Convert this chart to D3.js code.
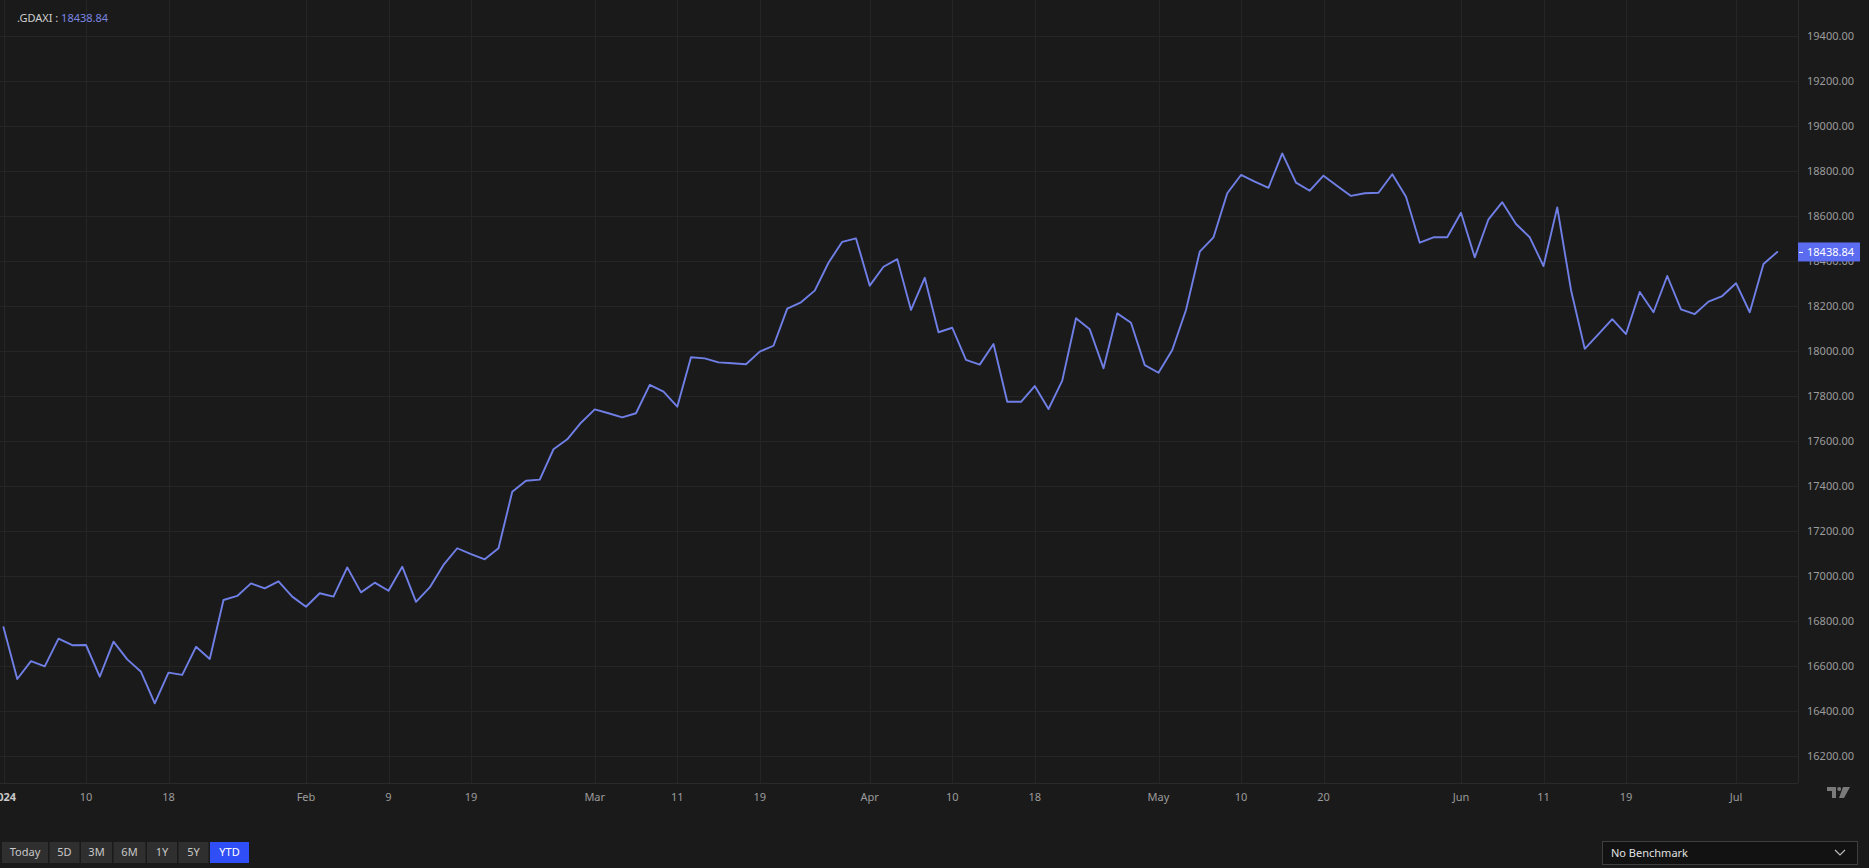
<!DOCTYPE html>
<html>
<head>
<meta charset="utf-8">
<script src="https://cdn.jsdelivr.net/npm/d3@7"></script>
<style>
  html, body { margin: 0; padding: 0; background: #1a1a1a; overflow: hidden; }
  svg { display: block; }
  text { font-family: "Noto Sans", "Open Sans", sans-serif; }
</style>
</head>
<body>
<svg id="chart" width="1869" height="868"></svg>
<script>
// ---- DATA ----
const symbol = ".GDAXI";
const lastValue = 18438.84;

const tradingDates = [
  "2024-01-02","2024-01-03","2024-01-04","2024-01-05","2024-01-08","2024-01-09","2024-01-10","2024-01-11","2024-01-12",
  "2024-01-15","2024-01-16","2024-01-17","2024-01-18","2024-01-19","2024-01-22","2024-01-23","2024-01-24","2024-01-25",
  "2024-01-26","2024-01-29","2024-01-30","2024-01-31",
  "2024-02-01","2024-02-02","2024-02-05","2024-02-06","2024-02-07","2024-02-08","2024-02-09","2024-02-12","2024-02-13",
  "2024-02-14","2024-02-15","2024-02-16","2024-02-19","2024-02-20","2024-02-21","2024-02-22","2024-02-23","2024-02-26",
  "2024-02-27","2024-02-28","2024-02-29",
  "2024-03-01","2024-03-04","2024-03-05","2024-03-06","2024-03-07","2024-03-08","2024-03-11","2024-03-12","2024-03-13",
  "2024-03-14","2024-03-15","2024-03-18","2024-03-19","2024-03-20","2024-03-21","2024-03-22","2024-03-25","2024-03-26",
  "2024-03-27","2024-03-28",
  "2024-04-02","2024-04-03","2024-04-04","2024-04-05","2024-04-08","2024-04-09","2024-04-10","2024-04-11","2024-04-12",
  "2024-04-15","2024-04-16","2024-04-17","2024-04-18","2024-04-19","2024-04-22","2024-04-23","2024-04-24","2024-04-25",
  "2024-04-26","2024-04-29","2024-04-30",
  "2024-05-02","2024-05-03","2024-05-06","2024-05-07","2024-05-08","2024-05-09","2024-05-10","2024-05-13","2024-05-14",
  "2024-05-15","2024-05-16","2024-05-17","2024-05-20","2024-05-21","2024-05-22","2024-05-23","2024-05-24","2024-05-27",
  "2024-05-28","2024-05-29","2024-05-30","2024-05-31",
  "2024-06-03","2024-06-04","2024-06-05","2024-06-06","2024-06-07","2024-06-10","2024-06-11","2024-06-12","2024-06-13",
  "2024-06-14","2024-06-17","2024-06-18","2024-06-19","2024-06-20","2024-06-21","2024-06-24","2024-06-25","2024-06-26",
  "2024-06-27","2024-06-28",
  "2024-07-01","2024-07-02","2024-07-03","2024-07-04"
];

const closeValues = [
  16771,16541,16620,16597,16720,16691,16692,16551,16707,16628,16573,16433,16569,16559,16684,16630,16892,16910,16966,16944,
  16975,16907,16862,16922,16907,17037,16926,16969,16933,
  17040,16884,16948,17048,17122,17096,17073,17122,17373,17422,17427,17562,17606,17680,17739,17722,17704,17722,17848,17818,
  17751,17971,17966,17948,17944,17940,17996,
  18022,18187,18215,18267,18391,18484,18499,18289,18373,18407,18181,18324,18082,18102,17959,17938,18030,17773,17773,17843,
  17741,17867,18144,18095,17922,18166,18124,17936,17902,18003,18181,18440,
  18504,18700,18781,18751,18724,18877,18747,18711,18778,18732,18688,18700,18702,18784,18684,18480,18504,18504,18613,18415,
  18584,18660,18563,18504,18376,18637,
  18270,18008,18074,18140,18074,18261,18171,18332,18184,18163,18218,18243,18300,18171,18385,18438.84
];

const xTickDates  = ["2024-01-02","2024-01-10","2024-01-18","2024-02-01","2024-02-09","2024-02-19","2024-03-01","2024-03-11",
                     "2024-03-19","2024-04-02","2024-04-10","2024-04-18","2024-05-02","2024-05-10","2024-05-20","2024-06-03",
                     "2024-06-11","2024-06-19","2024-07-01"];
const xTickLabels = ["2024","10","18","Feb","9","19","Mar","11","19","Apr","10","18","May","10","20","Jun","11","19","Jul"];

const yTickValues = [16200,16400,16600,16800,17000,17200,17400,17600,17800,18000,18200,18400,18600,18800,19000,19200,19400];

const rangeButtons = ["Today","5D","3M","6M","1Y","5Y","YTD"];
const activeRange = "YTD";
const benchmarkLabel = "No Benchmark";

// ---- LAYOUT ----
const W = 1869, H = 868;
const plotRight = 1798, plotBottom = 783;
const lineColor = "#6f7fe6";
const gridColor = "#252525";

const svg = d3.select("#chart");
svg.append("rect").attr("width", W).attr("height", H).attr("fill", "#1a1a1a");

const x = d3.scaleLinear().domain([0, tradingDates.length - 1]).range([3.5, 3.5 + 13.75 * (tradingDates.length - 1)]);
const y = d3.scaleLinear().domain([16200, 19400]).range([755.7, 35.7]);

const series = tradingDates.map((d, i) => ({ date: d, i, v: closeValues[i] }));

// grid
const grid = svg.append("g");
grid.selectAll("line.h").data(yTickValues).join("line")
  .attr("x1", 0).attr("x2", plotRight)
  .attr("y1", d => Math.round(y(d)) + 0.5).attr("y2", d => Math.round(y(d)) + 0.5)
  .attr("stroke", gridColor).attr("stroke-width", 1);
const xTicks = xTickDates.map((d, k) => ({ i: tradingDates.indexOf(d), label: xTickLabels[k] }));
grid.selectAll("line.v").data(xTicks).join("line")
  .attr("x1", d => Math.round(x(d.i)) + 0.5).attr("x2", d => Math.round(x(d.i)) + 0.5)
  .attr("y1", 0).attr("y2", plotBottom)
  .attr("stroke", gridColor).attr("stroke-width", 1);
// plot borders
svg.append("line").attr("x1", plotRight + 0.5).attr("x2", plotRight + 0.5).attr("y1", 0).attr("y2", plotBottom)
  .attr("stroke", "#2a2a2a");
svg.append("line").attr("x1", 0).attr("x2", plotRight).attr("y1", plotBottom + 0.5).attr("y2", plotBottom + 0.5)
  .attr("stroke", "#2a2a2a");

// line
const line = d3.line().x(d => x(d.i)).y(d => y(d.v));
svg.append("path").datum(series)
  .attr("d", line).attr("fill", "none")
  .attr("stroke", lineColor).attr("stroke-width", 1.9)
  .attr("stroke-linejoin", "round").attr("stroke-linecap", "round");

// y axis labels
const fmt = d3.format(".2f");
svg.append("g").selectAll("text").data(yTickValues).join("text")
  .attr("x", 1807).attr("y", d => y(d)).attr("dy", "0.35em")
  .attr("font-size", 11).attr("fill", "#9c9c9c")
  .text(d => fmt(d));

// last value marker
const ly = y(lastValue);
svg.append("rect").attr("x", plotRight).attr("y", ly - 9.5).attr("width", 62).attr("height", 19)
  .attr("fill", "#5b6cf0");
svg.append("line").attr("x1", plotRight + 1).attr("x2", plotRight + 5).attr("y1", ly + 0.5).attr("y2", ly + 0.5)
  .attr("stroke", "#ffffff").attr("stroke-width", 1);
svg.append("text").attr("x", 1807).attr("y", ly).attr("dy", "0.35em")
  .attr("font-size", 11).attr("fill", "#ffffff").text(fmt(lastValue));

// x axis labels
svg.append("g").selectAll("text").data(xTicks).join("text")
  .attr("x", d => x(d.i)).attr("y", 801)
  .attr("text-anchor", "middle").attr("font-size", 11)
  .attr("font-weight", d => d.label === "2024" ? "bold" : "normal")
  .attr("fill", d => d.label === "2024" ? "#c8c8c8" : "#9c9c9c")
  .text(d => d.label);

// title
const title = svg.append("text").attr("x", 17).attr("y", 22).attr("font-size", 11);
title.append("tspan").attr("fill", "#cfcfcf").text(symbol + " : ");
title.append("tspan").attr("fill", "#7b86e2").text(fmt(lastValue));

// TradingView-like logo
const logo = svg.append("g").attr("transform", "translate(1827,787)").attr("fill", "#7a7a7a");
logo.append("path").attr("d", "M0,0 H9 V11 H5 V4 H0 Z");
logo.append("circle").attr("cx", 12.2).attr("cy", 2).attr("r", 2);
logo.append("path").attr("d", "M16,0 H23 L17,11 H12 Z");

// range buttons
const btnWidths = [46, 30, 31, 32, 30, 30, 39];
let bx = 2;
const btns = svg.append("g");
rangeButtons.forEach((b, k) => {
  const w = btnWidths[k];
  const active = b === activeRange;
  btns.append("rect").attr("x", bx).attr("y", 842).attr("width", w).attr("height", 21)
    .attr("fill", active ? "#2f4ef5" : "#2f2f2f");
  btns.append("text").attr("x", bx + w / 2).attr("y", 852.5).attr("dy", "0.35em")
    .attr("text-anchor", "middle").attr("font-size", 11)
    .attr("fill", active ? "#ffffff" : "#c8c8c8").text(b);
  bx += w + 1.5;
});

// benchmark dropdown
svg.append("rect").attr("x", 1602.5).attr("y", 841.5).attr("width", 255).attr("height", 23)
  .attr("fill", "#121212").attr("stroke", "#3e3e3e");
svg.append("text").attr("x", 1611).attr("y", 853).attr("dy", "0.35em")
  .attr("font-size", 11).attr("fill", "#e0e0e0").text(benchmarkLabel);
svg.append("path").attr("d", "M1835,850 L1840,855 L1845,850").attr("fill", "none")
  .attr("stroke", "#bdbdbd").attr("stroke-width", 1.2);
</script>
</body>
</html>
